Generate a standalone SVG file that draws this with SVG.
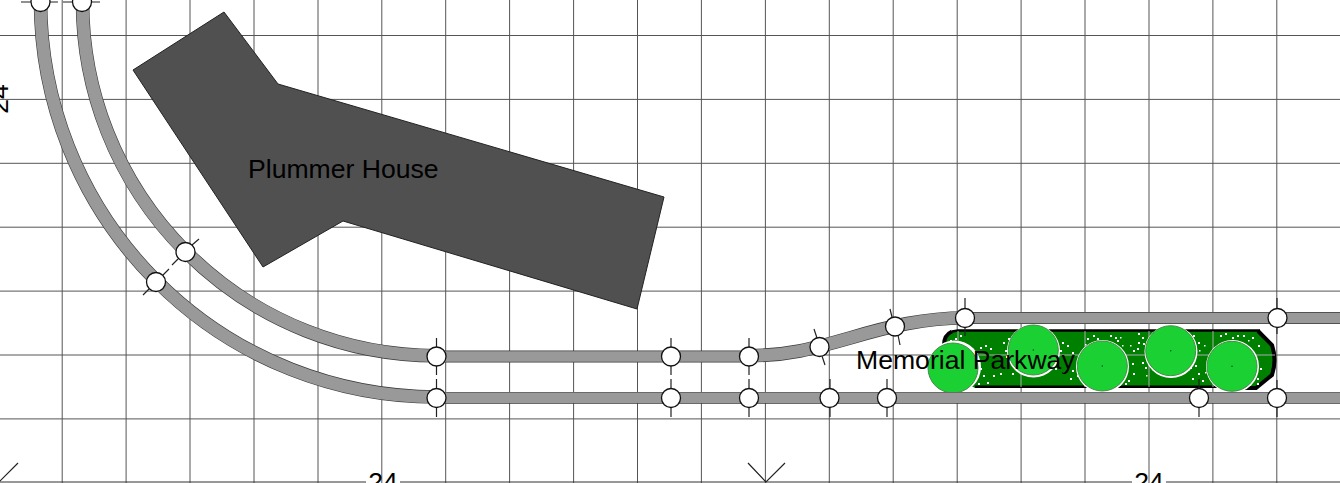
<svg xmlns="http://www.w3.org/2000/svg" width="1340" height="483" viewBox="0 0 1340 483">
<style>
.grid{stroke:#555;stroke-width:1;fill:none}
.edge{fill:none;stroke:#3a3a3a}
.fill{fill:none;stroke:#999}
.c1{stroke-width:13.6}
.c2{stroke-width:12.4}
.s1{stroke-width:11.8}
.s2{stroke-width:10.6}
.n{fill:#fff;stroke:#111;stroke-width:1.3}
.t{stroke:#222;stroke-width:1.2;fill:none}
.lbl{font-family:"Liberation Sans",Arial,sans-serif;font-size:26.6px;fill:#000}
.tree{fill:#1ad032;stroke:#4a8a4a;stroke-width:1}
.halo{fill:#fff}
.c{fill:#143;stroke:none}
</style>
<rect width="1340" height="483" fill="#fff"/>
<g id="grid">
<path class="grid" d="M62.2 0V483M126.1 0V483M190 0V483M254 0V483M318 0V483M381.8 0V483M445.7 0V483M509.6 0V483M573.6 0V483M637.5 0V483M701.4 0V483M765.4 0V483M829.3 0V483M893.2 0V483M957.2 0V483M1021.1 0V483M1085 0V483M1149 0V483M1212.9 0V483M1276.8 0V483"/>
<path class="grid" d="M0 35.5H1340M0 99.4H1340M0 163.3H1340M0 227.2H1340M0 291.1H1340M0 355H1340M0 418.9H1340"/>
</g>
<g id="dimensions">
<path d="M0 482H366M400 482H1132M1166 482H1340" fill="none" stroke="#333" stroke-width="1.2"/>
<path d="M748 463L766 482L785 463M18 463L-1 482" fill="none" stroke="#222" stroke-width="1.2"/>
<text class="lbl" x="383" y="491" text-anchor="middle">24</text>
<text class="lbl" x="1149" y="491" text-anchor="middle">24</text>
<text class="lbl" transform="translate(8 99) rotate(-90)" text-anchor="middle">24</text>
</g>
<g id="plummer-house">
<polygon points="224,12 278,84 664,197 637,309 343,221 263,267 133,70" fill="#505050" stroke="#222" stroke-width="1"/>
<text class="lbl" x="248" y="177.500">Plummer House</text>
</g>
<g id="memorial-parkway">
<path d="M943 345Q944 331 958 330.500H1260L1273 345Q1278 360 1273 375L1257 388H975L950 375Z" fill="#008000"/>
<path d="M952 331.500L958 330.500H1260M975 386.700H1250" fill="none" stroke="#000" stroke-width="2.500"/>
<path d="M944 345Q944 335 952 331.500M1258 331L1272 345Q1277 360 1272 375L1256 388H1245" fill="none" stroke="#000" stroke-width="4"/>
<path d="M958 331V387M1021 331V387M1085 331V387M1149 331V387M1213 331V387M950 355H1275" stroke="#aaa" stroke-width="1" fill="none"/>
<path fill="#fff" d="M950 340h2v2h-2zM955 338h2v2h-2zM960 335h2v2h-2zM980 347h2v2h-2zM985 345h2v2h-2zM990 348h2v2h-2zM1003 342h2v2h-2zM1005 350h2v2h-2zM1008 338h2v2h-2zM1006 356h2v2h-2zM980 368h2v2h-2zM983 375h2v2h-2zM987 382h2v2h-2zM993 375h2v2h-2zM1000 373h2v2h-2zM1012 373h2v2h-2zM978 383h2v2h-2zM976 352h2v2h-2zM1062 342h2v2h-2zM1060 350h2v2h-2zM1067 345h2v2h-2zM1072 352h2v2h-2zM1087 338h2v2h-2zM1093 335h2v2h-2zM1097 338h2v2h-2zM1055 368h2v2h-2zM1063 372h2v2h-2zM1070 378h2v2h-2zM1077 375h2v2h-2zM1072 370h2v2h-2zM1110 335h2v2h-2zM1115 337h2v2h-2zM1117 340h2v2h-2zM1138 333h2v2h-2zM1142 337h2v2h-2zM1138 342h2v2h-2zM1143 343h2v2h-2zM1133 350h2v2h-2zM1137 348h2v2h-2zM1132 363h2v2h-2zM1142 362h2v2h-2zM1145 367h2v2h-2zM1133 373h2v2h-2zM1128 380h2v2h-2zM1125 383h2v2h-2zM1193 335h2v2h-2zM1198 342h2v2h-2zM1190 367h2v2h-2zM1195 365h2v2h-2zM1198 373h2v2h-2zM1202 380h2v2h-2zM1192 378h2v2h-2zM1220 335h2v2h-2zM1225 333h2v2h-2zM1232 337h2v2h-2zM1237 335h2v2h-2zM1243 335h2v2h-2zM1252 337h2v2h-2zM1258 345h2v2h-2zM1255 365h2v2h-2zM1260 368h2v2h-2zM1257 378h2v2h-2zM1257 383h2v2h-2zM1010 349h1.500v1.500h-1.500zM1012 362h1.500v1.500h-1.500zM1056 344h1.500v1.500h-1.500zM1052 364h1.500v1.500h-1.500zM1130 345h1.500v1.500h-1.500zM1146 375h1.500v1.500h-1.500zM1199 350h1.500v1.500h-1.500zM1204 345h1.500v1.500h-1.500zM1205 372h1.500v1.500h-1.500zM1122 345h1.500v1.500h-1.500zM1120 337h1.500v1.500h-1.500zM1248 340h1.500v1.500h-1.500zM1085 344h1.500v1.500h-1.500z"/>
<circle class="halo" cx="954.500" cy="367" r="26.500"/><circle class="halo" cx="1033.500" cy="351" r="26.500"/><circle class="halo" cx="1102.500" cy="366.500" r="26.500"/><circle class="halo" cx="1171" cy="351.500" r="26.500"/><circle class="halo" cx="1232.500" cy="366.500" r="26.500"/>
<circle class="tree" cx="953" cy="368" r="25"/><circle class="c" cx="953" cy="368" r=".7"/>
<circle class="tree" cx="1033.300" cy="350" r="25"/><circle class="c" cx="1033.300" cy="350" r=".7"/>
<circle class="tree" cx="1102.300" cy="366" r="25"/><circle class="c" cx="1102.300" cy="366" r=".7"/>
<circle class="tree" cx="1170.700" cy="350.700" r="25"/><circle class="c" cx="1170.700" cy="350.700" r=".7"/>
<circle class="tree" cx="1232" cy="366.300" r="25"/><circle class="c" cx="1232" cy="366.300" r=".7"/>
<text class="lbl" x="856" y="369">Memorial Parkway</text>
</g>
<g id="connectors">
<path class="edge s1" d="M436 397.800H1340M436 356.500H749M965 318H1340"/>
<path class="edge c1" d="M40.500 1A396 396 0 0 0 436.500 397M82.500 1.500A354 354 0 0 0 436.500 355.700M749 355.700C790 355.700 815 348 850 338C890 326 925 318 965 318"/>
<path class="fill s2" d="M436 397.800H1340M436 356.500H749M965 318H1340"/>
<path class="fill c2" d="M40.500 1A396 396 0 0 0 436.500 397M82.500 1.500A354 354 0 0 0 436.500 355.700M749 355.700C790 355.700 815 348 850 338C890 326 925 318 965 318"/>
<path class="t" d="M436.500 338V347M436.500 366V375M436.500 379V388M436.500 408V417M671 338V347M671 366V375M671 379V388M671 408V417M749 338V347M749 366V375M749 379V388M749 408V417M830 379V388M830 408V417M887 379V388M887 408V417M1199 379V388M1199 408V417M1277 298V308M1277 328V334M1277 380V388M1277 408V417M965 298V308M965 328V336M814 329L817 338M822 356L825 365M890 309L892 317M898 335L900 345M143 295L149 289M163 275L169 269M172 265L178 259M192 245L199 239M21 2H31M49 2H58M63 2H73M91 2H100"/>
</g>
<g id="node-1"><circle class="n" cx="40.500" cy="2" r="9.500"/></g>
<g id="node-2"><circle class="n" cx="82" cy="2" r="9.500"/></g>
<g id="node-3"><circle class="n" cx="156" cy="282" r="9.500"/></g>
<g id="node-4"><circle class="n" cx="185.500" cy="252" r="9.500"/></g>
<g id="node-5"><circle class="n" cx="436.500" cy="356.500" r="9.500"/></g>
<g id="node-6"><circle class="n" cx="671" cy="356.500" r="9.500"/></g>
<g id="node-7"><circle class="n" cx="749" cy="356.500" r="9.500"/></g>
<g id="node-8"><circle class="n" cx="819.500" cy="347" r="9.500"/></g>
<g id="node-9"><circle class="n" cx="895" cy="326.500" r="9.500"/></g>
<g id="node-10"><circle class="n" cx="965" cy="318" r="9.500"/></g>
<g id="node-11"><circle class="n" cx="1277.500" cy="318" r="9.500"/></g>
<g id="node-12"><circle class="n" cx="436.500" cy="398" r="9.500"/></g>
<g id="node-13"><circle class="n" cx="671" cy="398" r="9.500"/></g>
<g id="node-14"><circle class="n" cx="749" cy="398" r="9.500"/></g>
<g id="node-15"><circle class="n" cx="829.500" cy="398" r="9.500"/></g>
<g id="node-16"><circle class="n" cx="887" cy="398" r="9.500"/></g>
<g id="node-17"><circle class="n" cx="1199" cy="398" r="9.500"/></g>
<g id="node-18"><circle class="n" cx="1277" cy="398" r="9.500"/></g>
</svg>
